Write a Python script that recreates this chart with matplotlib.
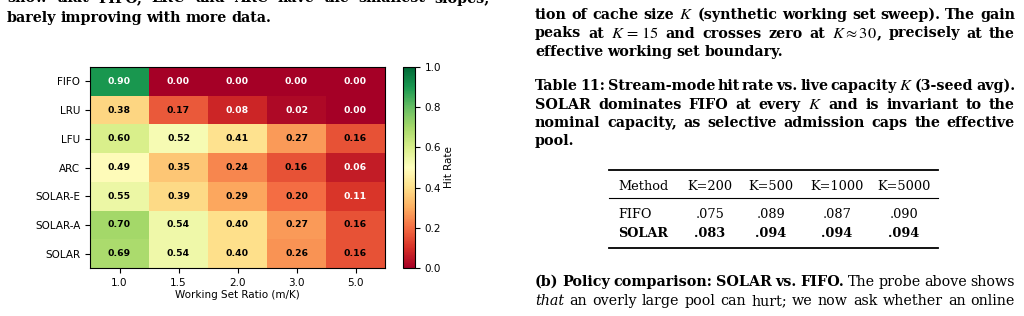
import matplotlib
matplotlib.use('Agg')
import matplotlib.pyplot as plt
import numpy as np
from matplotlib.lines import Line2D

plt.rcParams['mathtext.fontset'] = 'stix'

# heatmap data
methods = ['FIFO', 'LRU', 'LFU', 'ARC', 'SOLAR-E', 'SOLAR-A', 'SOLAR']
ratios = ['1.0', '1.5', '2.0', '3.0', '5.0']
hit_fifo = [0.90, 0.00, 0.00, 0.00, 0.00]
hit_lru = [0.38, 0.17, 0.08, 0.02, 0.00]
hit_lfu = [0.60, 0.52, 0.41, 0.27, 0.16]
hit_arc = [0.49, 0.35, 0.24, 0.16, 0.06]
hit_solar_e = [0.55, 0.39, 0.29, 0.20, 0.11]
hit_solar_a = [0.70, 0.54, 0.40, 0.27, 0.16]
hit_solar = [0.69, 0.54, 0.40, 0.26, 0.16]

# table 11 data
table_header = ['Method', 'K=200', 'K=500', 'K=1000', 'K=5000']
fifo_row = ['FIFO', '.075', '.089', '.087', '.090']
solar_row = ['SOLAR', '.083', '.094', '.094', '.094']

W, H = 1024, 316
SERIF = 'DejaVu Serif'
BODY = 10.3
MATH = {'size': 11.8}
fig = plt.figure(figsize=(W / 100, H / 100), dpi=100)
renderer = fig.canvas.get_renderer()


def fx(x):
    return x / W


def fy(y):
    return 1 - y / H


def words(s, **kw):
    return [[(w, kw)] for w in s.split()]


def text_line(wlist, x0, y, width=None, size=BODY, weight='bold'):
    # place words on one line; spread them out when a width is given
    placed = []
    total = 0
    for word in wlist:
        segs = []
        for s, kw in word:
            opts = dict(family=SERIF, size=size, weight=weight)
            opts.update(kw)
            t = fig.text(0, fy(y), s, va='baseline', ha='left', **opts)
            w = t.get_window_extent(renderer).width
            segs.append((t, w))
            total += w
        placed.append(segs)
    if width is None or len(wlist) < 2:
        gap = size * 100 / 72 * 0.3
    else:
        gap = (width - total) / (len(wlist) - 1)
    x = x0
    for segs in placed:
        for t, w in segs:
            t.set_x(fx(x))
            x += w
        x += gap


# ---- left column text ----
text_line(words('show that FIFO, LRU and ARC have the smallest slopes,'), 7, 2.5, width=483)
text_line(words('barely improving with more data.'), 7, 22)

# ---- heatmap ----
hit = np.array([hit_fifo, hit_lru, hit_lfu, hit_arc, hit_solar_e, hit_solar_a, hit_solar])
ax = fig.add_axes([fx(90), fy(268), (385 - 90) / W, (268 - 67) / H])
im = ax.imshow(hit, cmap='RdYlGn', vmin=0, vmax=1, aspect='auto')
ax.set_xticks(range(len(ratios)))
ax.set_xticklabels(ratios, fontsize=7.5)
ax.set_yticks(range(len(methods)))
ax.set_yticklabels(methods, fontsize=7.5)
ax.set_xlabel('Working Set Ratio (m/K)', fontsize=7.5, labelpad=2)
for i in range(hit.shape[0]):
    for j in range(hit.shape[1]):
        v = hit[i, j]
        c = 'white' if (v < 0.15 or v > 0.8) else 'black'
        ax.text(j, i, f'{v:.2f}', ha='center', va='center', fontsize=6.7,
                fontweight='bold', color=c)

cax = fig.add_axes([fx(403), fy(268), 12 / W, (268 - 67) / H])
cb = fig.colorbar(im, cax=cax)
cb.set_ticks([0.0, 0.2, 0.4, 0.6, 0.8, 1.0])
cb.ax.tick_params(labelsize=7.5)
cb.set_label('Hit Rate', fontsize=7.5, labelpad=2)

# ---- right column text ----
X0, TW = 535, 480
text_line(words('tion of cache size') + [[('$K$', MATH)]]
          + words('(synthetic working set sweep). The gain'), X0, 19, width=TW)
text_line(words('peaks at') + [[('$K\\,=\\,15$', MATH)]] + words('and crosses zero at')
          + [[('$K\\approx 30$', MATH), (',', {})]] + words('precisely at the'), X0, 37.5, width=TW)
text_line(words('effective working set boundary.'), X0, 56)

text_line(words('Table 11: Stream-mode hit rate vs. live capacity') + [[('$K$', MATH)]]
          + words('(3-seed avg).'), X0, 90, width=TW)
text_line(words('SOLAR dominates FIFO at every') + [[('$K$', MATH)]]
          + words('and is invariant to the'), X0, 108.5, width=TW)
text_line(words('nominal capacity, as selective admission caps the effective'), X0, 127, width=TW)
text_line(words('pool.'), X0, 145.5)

# ---- table 11 ----
col_x = [618, 710, 771, 837, 904]
tsize = 9.3
for k, lab in enumerate(table_header):
    fig.text(fx(col_x[k]), fy(190), lab, family=SERIF, size=tsize, va='baseline',
             ha='left' if k == 0 else 'center')
for k, lab in enumerate(fifo_row):
    fig.text(fx(col_x[k]), fy(218), lab, family=SERIF, size=tsize, va='baseline',
             ha='left' if k == 0 else 'center')
for k, lab in enumerate(solar_row):
    fig.text(fx(col_x[k]), fy(237), lab, family=SERIF, size=tsize, va='baseline',
             weight='bold', ha='left' if k == 0 else 'center')
for yy, lw in [(169.5, 1.3), (198, 0.8), (248, 1.3)]:
    fig.add_artist(Line2D([fx(609), fx(938)], [fy(yy), fy(yy)], color='black', lw=lw))

# ---- paragraph below ----
text_line(words('(b) Policy comparison: SOLAR vs. FIFO.')
          + words('The probe above shows', weight='normal'), X0, 286, width=TW)
text_line(words('that', style='italic', weight='normal')
          + words('an overly large pool can hurt; we now ask whether an online', weight='normal'),
          X0, 305, width=TW)

fig.savefig('out.png', dpi=100)
